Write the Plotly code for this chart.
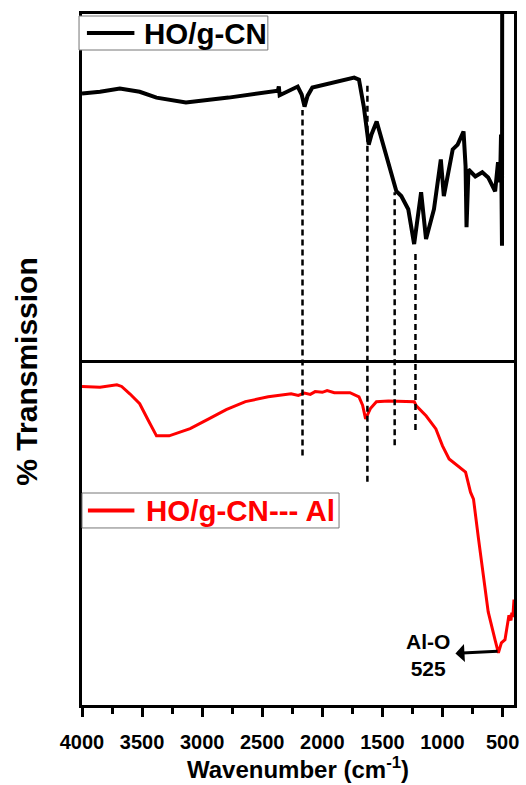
import plotly.graph_objects as go
from plotly.subplots import make_subplots

# ---------------- data ----------------
# HO/g-CN (top panel), wavenumber (cm-1) and relative transmission
wn_hog = [4000, 3850, 3685, 3520, 3380, 3135, 2780, 2370, 2362, 2355, 2205, 2172, 2148,
          2123, 2083, 1735, 1695, 1655, 1614, 1590, 1548, 1408, 1384, 1343, 1285,
          1236, 1178, 1137, 1071, 1014, 989, 915, 874, 825, 808, 800, 784, 727,
          669, 620, 562, 538, 521, 513, 505, 503]
t_hog = [77.0, 77.5, 78.4, 77.5, 75.8, 74.4, 75.8, 77.8, 79.0, 76.5, 79.0, 76.7, 73.2,
         76.3, 78.7, 81.6, 81.0, 73.2, 62.2, 65.2, 68.9, 52.2, 48.7, 47.3, 43.5,
         33.4, 48.4, 34.9, 43.5, 57.9, 47.3, 60.8, 62.2, 66.0, 56.0, 38.3, 55.0, 53.0,
         54.2, 52.7, 48.7, 57.1, 51.3, 65.1, 32.9, 115.0]

# HO/g-CN--- Al (bottom panel)
wn_al = [4000, 3850, 3710, 3670, 3600, 3520, 3450, 3380, 3275, 3100, 2945, 2800, 2640,
         2450, 2260, 2200, 2150, 2100, 2060, 2000, 1960, 1900, 1770, 1695, 1665,
         1640, 1600, 1550, 1450, 1300, 1235, 1218, 1137, 1055, 1000, 945, 835,
         808, 767, 742, 700, 620, 560, 535, 510, 480, 447, 430, 423, 415, 405]
t_al = [92.2, 92.0, 92.7, 92.2, 90.0, 87.2, 82.5, 77.9, 77.9, 80.0, 82.8, 85.5, 87.8,
        89.2, 90.1, 89.6, 90.3, 89.9, 90.7, 90.5, 91.0, 90.4, 90.4, 89.2, 86.8,
        82.8, 85.8, 87.8, 88.0, 88.0, 87.8, 86.6, 83.7, 79.9, 75.0, 71.2, 68.3,
        67.4, 61.6, 59.6, 48.0, 27.0, 18.5, 15.1, 18.0, 18.9, 26.0, 24.5, 26.7, 25.4, 30.5]

series_names = ["HO/g-CN", "HO/g-CN--- Al"]
series_colors = ["black", "#ff0000"]
peak_wn = [2165, 1625, 1398, 1225]
tick_vals = [4000, 3500, 3000, 2500, 2000, 1500, 1000, 500]
tick_text = ["4000", "3500", "3000", "2500", "2000", "1500", "1000", "500"]
minor_vals = [3750, 3250, 2750, 2250, 1750, 1250, 750]
al_o_peak = (525, 15.1)

# ---------------- style / layout ----------------
FONT = "Liberation Sans, Arial, sans-serif"
peak_extent = [(0.361, 0.861), (0.323, 0.896), (0.376, 0.742), (0.398, 0.656)]
# legend boxes in paper coords: (box x0, x1, y0, y1, sample x0, x1, text x)
legend_boxes = [(-0.0069, 0.4302, 0.9479, 0.9971, 0.0114, 0.1213, 0.1396),
                (0.0, 0.5950, 0.2562, 0.3068, 0.0137, 0.1213, 0.1442)]

fig = make_subplots(rows=2, cols=1, shared_xaxes=True, vertical_spacing=0)

fig.add_trace(go.Scatter(x=wn_hog, y=t_hog, mode="lines", name=series_names[0],
                         line=dict(color=series_colors[0], width=4), showlegend=False),
              row=1, col=1)
fig.add_trace(go.Scatter(x=wn_al, y=t_al, mode="lines", name=series_names[1],
                         line=dict(color=series_colors[1], width=3), showlegend=False),
              row=2, col=1)

for w, (y0, y1) in zip(peak_wn, peak_extent):
    fig.add_shape(type="line", xref="x", yref="paper", x0=w, x1=w, y0=y0, y1=y1,
                  line=dict(color="black", width=2.5, dash="6px,4px"))

# legend boxes (drawn as boxed labels)
for name, color, (bx0, bx1, by0, by1, sx0, sx1, tx) in zip(series_names, series_colors,
                                                          legend_boxes):
    fig.add_shape(type="rect", xref="paper", yref="paper", x0=bx0, x1=bx1, y0=by0, y1=by1,
                  line=dict(color="#777", width=1), fillcolor="white", layer="above")
    ym = (by0 + by1) / 2
    fig.add_shape(type="line", xref="paper", yref="paper", x0=sx0, x1=sx1, y0=ym, y1=ym,
                  line=dict(color=color, width=4), layer="above")
    fig.add_annotation(text="<b>%s</b>" % name, xref="paper", yref="paper", x=tx, y=ym,
                       xanchor="left", yanchor="middle", showarrow=False,
                       font=dict(family=FONT, size=29.5, color=color))

axis_line = dict(showline=True, linecolor="black", linewidth=3,
                 showgrid=False, zeroline=False)

fig.update_xaxes(range=[4000, 405], **axis_line)
fig.update_xaxes(row=1, col=1, ticks="", showticklabels=False, mirror=True)
fig.update_xaxes(row=2, col=1, mirror=False, ticks="outside", ticklen=9, tickwidth=2.5,
                 tickcolor="black", tickmode="array", tickvals=tick_vals,
                 ticktext=["<b>%s</b>" % t for t in tick_text],
                 ticklabelstandoff=8,
                 tickfont=dict(family=FONT, size=20, color="black"),
                 minor=dict(tickvals=minor_vals, ticks="outside", ticklen=6,
                            tickwidth=2.5, tickcolor="black"),
                 title=dict(text="<b>Wavenumber (cm<sup>-1</sup>)</b>",
                            font=dict(family=FONT, size=24, color="black"),
                            standoff=6))
fig.update_yaxes(range=[0, 100], ticks="", showticklabels=False, mirror=True, **axis_line)

fig.add_annotation(text="<b>% Transmission</b>", xref="paper", yref="paper",
                   x=-0.128, y=0.482, textangle=-90, showarrow=False,
                   xanchor="center", yanchor="middle",
                   font=dict(family=FONT, size=30, color="black"))

# label with arrow: head points away from the Al-O band minimum towards the text
fig.add_annotation(text="<b>Al-O<br>525</b>", xref="x", yref="y2",
                   x=al_o_peak[0], y=al_o_peak[1] + 0.5,
                   axref="x", ayref="y2", ax=1121, ay=14.5,
                   showarrow=True, arrowside="start", arrowhead=2, arrowsize=1.1,
                   arrowwidth=3, arrowcolor="black", standoff=2, startstandoff=4,
                   font=dict(family=FONT, size=21, color="black"))

fig.update_layout(
    width=526, height=785,
    margin=dict(l=82, r=7, t=14, b=80),
    plot_bgcolor="white", paper_bgcolor="white",
    showlegend=False,
    font=dict(family=FONT, color="black"),
)

fig.write_html("out.html")
